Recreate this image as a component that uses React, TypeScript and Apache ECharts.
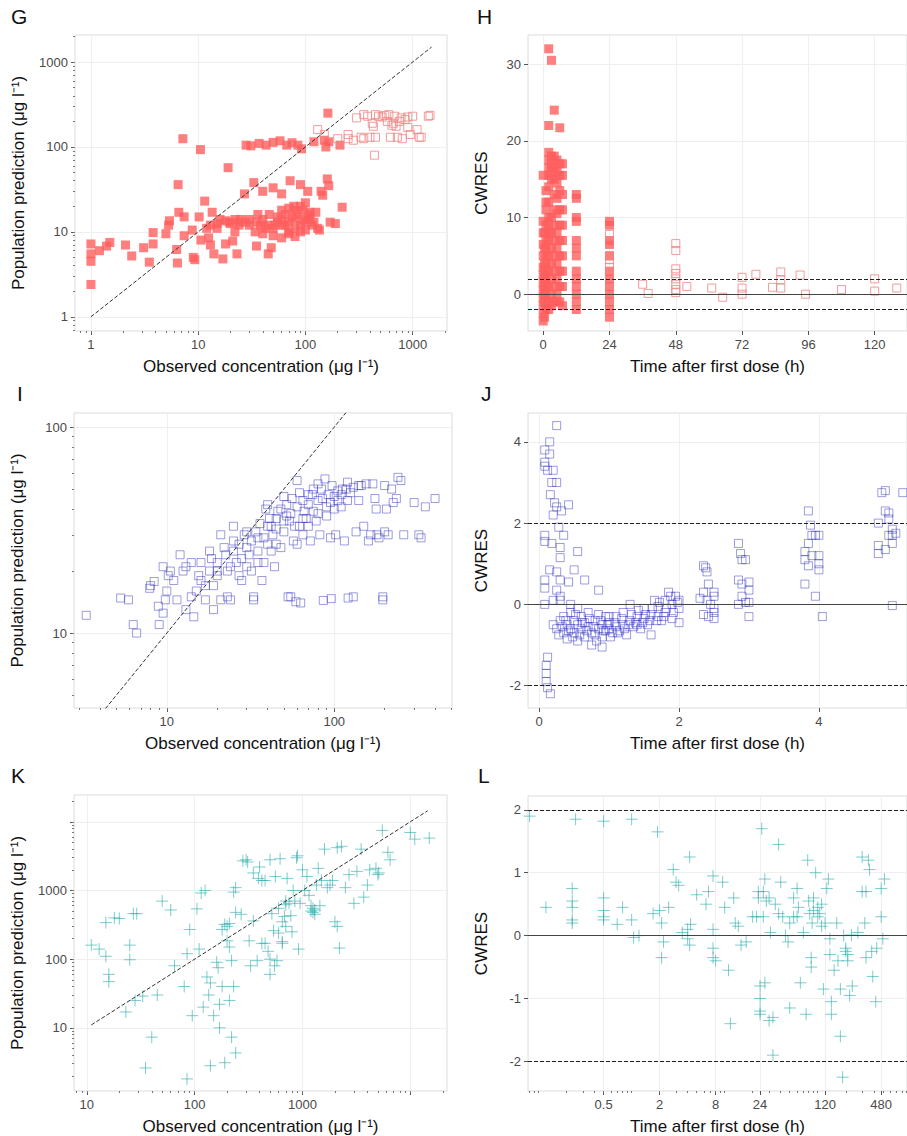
import React, { useEffect, useRef } from 'react';
import * as echarts from 'echarts';

// ---- data ----
// G: observed vs population prediction, drug 1 (filled = early samples, hollow = late samples)
const gFilled: number[][] = [
  [1, 7.2], [1, 5.5], [1, 4.5], [1, 2.4], [1.2, 6], [1.4, 6.8], [1.5, 7.5], [2.1, 7], [2.4, 5.2], [3.1, 6.5],
  [3.5, 4.4], [3.8, 7.2], [3.8, 9.8], [5, 9.5], [5.3, 12], [5.4, 13.5], [6.3, 6.2], [6.4, 4.3], [6.6, 17], [6.5, 36],
  [7.2, 125], [7.4, 15], [7.4, 9], [8.8, 10.5], [9, 5], [9.3, 4.7], [10.5, 93], [10.2, 15], [10.6, 8], [11.5, 23],
  [12, 11], [12.5, 8.5], [13, 7], [13.5, 17], [14, 5.5], [15, 11], [16, 14], [17, 4.8], [18, 7.2], [19, 57],
  [19.5, 13], [21, 7.8], [22, 10], [23, 5.5], [24, 13], [24, 12], [27, 28], [28, 105], [30, 14], [31, 103],
  [33, 38], [34, 10], [35, 6.8], [36, 16], [37, 110], [38, 12], [40, 30], [42, 11], [43, 105], [45, 5.5],
  [46, 16], [48, 6.5], [50, 113], [50, 33], [52, 12], [55, 15], [58, 118], [60, 28], [62, 12], [65, 16],
  [67, 105], [70, 10], [72, 40], [75, 112], [78, 20], [80, 14], [85, 105], [90, 36], [92, 95], [95, 18],
  [100, 10.5], [105, 30], [110, 14], [115, 12], [120, 115], [130, 11], [135, 10.5], [140, 30], [145, 27], [150, 120],
  [155, 100], [160, 42], [162, 250], [165, 35], [165, 115], [170, 13], [190, 12.5], [210, 105], [220, 19.5],
  [30, 12], [35, 13], [40, 14], [45, 12], [50, 11], [55, 13], [60, 14], [65, 12], [70, 13], [75, 15],
  [80, 11], [85, 16], [90, 12], [95, 14], [100, 13], [105, 15], [110, 17], [120, 13], [60, 18], [70, 19],
  [80, 18], [90, 20], [100, 22], [110, 16], [125, 17], [40, 9.5], [50, 9], [60, 8.5], [70, 9.5], [80, 8.8],
  [90, 10], [20, 12.5], [25, 14], [15, 12.5], [18, 13.5], [28, 13], [13, 12], [22, 14],
];
const gHollow: number[][] = [
  [130, 160], [150, 140], [200, 125], [250, 125], [280, 120], [300, 220], [330, 130], [350, 125], [380, 230], [400, 130],
  [420, 190], [430, 175], [440, 80], [450, 130], [480, 230], [520, 225], [550, 235], [580, 200], [600, 240], [620, 130],
  [640, 180], [660, 190], [700, 175], [720, 130], [750, 200], [780, 220], [800, 125], [850, 210], [900, 170], [950, 140],
  [1000, 230], [1100, 160], [1150, 130], [1200, 130], [1400, 230], [1450, 235], [350, 240], [450, 240], [250, 140], [680, 230],
  [900, 225],
];

// H: CWRES vs time, drug 1
const hCols: [number, number[]][] = [
  [0, [-3.5, -2.5, -1.5, -0.5, 0.5, 1.5, 2.5, 3.5, 5, 6.5, 8, 9.5, 15.5]],
  [0.5, [-3, -1, 0, 1, 2, 3, 4, 6, 8]],
  [1, [-2, -1, 0, 1, 2, 3, 4, 5, 6, 7, 9, 11, 12, 13.5]],
  [2, [32, 22, 18.5, 17.5, 16.5, 15.5, 14, 12, 10, 9, 8, 7, 5, 3, 1, -1, -2]],
  [3, [30.5, 18, 17, 16, 15, 10, 8, 6, 4, 2, 0, -1.5]],
  [4, [24, 18, 16.5, 15, 13, 11, 9, 7, 5, 3, 1, -1]],
  [5, [17.5, 16, 14.5, 12.5, 10.5, 8, 6, 4, 2, 0, -1]],
  [6, [21.7, 17, 15.5, 13.5, 11, 9, 7, 5, 3, 1, -1]],
  [7, [17, 15.5, 13, 11, 9, 7, 5, 3, 1, -1.5]],
  [12, [13, 12.5, 10, 9.5, 7, 6, 5, 3, 2, 1, 0, -1, -2]],
  [24, [9.5, 9, 7, 6.5, 5, 3, 2, 1, 0, -1, -2, -3]],
];
const hHollow: number[][] = [
  [24, 7.8], [24, 6.5], [24, 5], [24, 4.5], [24, 3.5], [24, 2.5], [24, 1.5], [24, 0.5],
  [36, 1.3], [38, 0.1], [48, 6.6], [48, 5.7], [48, 3.3], [48, 2.7], [48, 2], [48, 1.3], [48, 0.6], [48, 0.2],
  [52, 1], [61, 0.8], [65, -0.4], [72, 2.2], [72, 0.8], [72, 0], [77, 2.6], [83, 0.9], [86, 2.9], [86, 1.9],
  [86, 0.8], [93, 2.5], [95, 0], [108, 0.6], [120, 2], [120, 0.4], [128, 0.8],
];

// I: observed vs population prediction, drug 2
const iPoints: number[][] = [
  [3.3, 12.2], [5.3, 14.8], [5.9, 14.5], [6.3, 11], [6.6, 10], [7.9, 16.5], [8, 17], [8.4, 17.8], [8.9, 13.5], [9, 11],
  [9.5, 12.5], [9.8, 14.5], [9.5, 21], [10, 16], [10.2, 19], [10.5, 20], [11, 18], [11.5, 14.5], [12, 24], [12.5, 20],
  [13, 13], [13, 21], [14, 22], [14, 15], [14.5, 12], [15, 16], [15.5, 19], [16, 22], [17, 17], [17, 14.5],
  [18, 25], [18.5, 23], [19, 17], [20, 19], [20, 20], [21, 30], [21, 14.5], [22, 26], [22.5, 24], [23, 20],
  [24, 14.5], [24, 21], [25, 33], [25, 25], [26, 22], [27, 27], [27, 19], [28, 23], [29, 30], [30, 21],
  [30, 26], [31, 24], [32, 28], [33, 15], [33, 14.5], [34, 31], [35, 25], [36, 34], [37, 18], [38, 29],
  [39, 40], [40, 33], [41, 36], [42, 25], [43, 30], [44, 21], [45, 27], [46, 39], [48, 26], [50, 31],
  [52, 37], [53, 15], [54, 35], [55, 15], [56, 45], [57, 28], [58, 33], [59, 14.2], [60, 27], [62, 48],
  [62, 33], [63, 14], [65, 30], [66, 39], [68, 36], [70, 42], [72, 28], [74, 47], [75, 39], [78, 35],
  [80, 44], [82, 30], [84, 50], [86, 14.4], [88, 56], [90, 37], [92, 47], [95, 29], [96, 14.7], [97, 52],
  [100, 40], [102, 30], [105, 49], [110, 41], [112, 50], [115, 28], [118, 50], [120, 44], [121, 14.8], [130, 15],
  [135, 31], [140, 44], [145, 52], [150, 33], [155, 53], [160, 28], [165, 30], [170, 53], [175, 45], [178, 40],
  [180, 30], [185, 29], [195, 14.5], [195, 15], [200, 31], [205, 40], [210, 30], [220, 50], [225, 43], [235, 45],
  [240, 57], [250, 55], [260, 30], [300, 43], [320, 30], [330, 29], [350, 41], [400, 45], [60, 55], [80, 53],
  [120, 54], [140, 52], [200, 52], [40, 42], [50, 46], [45, 36], [35, 22], [28, 18], [23, 15], [19, 13],
  [30, 31], [35, 29], [40, 27], [45, 32], [50, 35], [55, 38], [60, 41], [65, 44], [70, 47], [75, 50],
  [85, 45], [95, 43], [105, 44], [125, 48], [25, 28], [20, 22], [18, 20], [16, 18], [65, 36], [70, 33],
  [80, 38], [90, 41], [100, 46], [110, 47], [130, 51], [32, 20], [38, 22], [42, 33], [48, 40], [52, 42],
];

// J: CWRES vs time, drug 2
const jPoints: number[][] = [
  [0.08, 3.8], [0.08, 3.5], [0.08, 3.4], [0.15, 4.0], [0.15, 3.7], [0.12, 3.3], [0.2, 3.3], [0.18, 3.0], [0.16, 2.7], [0.25, 3.0],
  [0.22, 2.5], [0.2, 2.2], [0.25, 2.4], [0.32, 2.3], [0.42, 2.45], [0.25, 4.4], [0.08, 1.7], [0.08, 1.55], [0.18, 1.5], [0.35, 1.7],
  [0.28, 1.9], [0.3, 1.4], [0.3, 1.15], [0.55, 1.3], [0.15, 0.85], [0.25, 0.8], [0.08, 0.6], [0.3, 0.6], [0.08, 0.4], [0.5, 0.85],
  [0.65, 0.6], [0.42, 0.55], [0.85, 0.35], [0.08, 0], [0.2, 0.1], [0.3, 0.2], [0.12, -1.3], [0.1, -1.5], [0.1, -1.7], [0.1, -1.9],
  [0.12, -2.05], [0.16, -2.2],
  [0.2, -0.5], [0.25, -0.6], [0.3, -0.4], [0.35, -0.7], [0.35, -0.3], [0.4, -0.5], [0.4, -0.85], [0.45, -0.2], [0.45, -0.6], [0.5, -0.4],
  [0.5, -0.7], [0.55, -0.5], [0.55, -0.9], [0.6, -0.3], [0.6, -0.6], [0.65, -0.8], [0.65, -0.45], [0.7, -0.55], [0.7, -0.2], [0.75, -0.7],
  [0.75, -1.0], [0.8, -0.4], [0.8, -0.75], [0.85, -0.6], [0.85, -0.25], [0.9, -0.5], [0.9, -0.8], [0.9, -1.05], [0.95, -0.3], [1.0, -0.6],
  [1.0, -0.45], [1.05, -0.7], [1.1, -0.55], [1.1, -0.3], [1.15, -0.65], [1.2, -0.5], [1.2, -0.2], [1.25, -0.75], [1.3, -0.4], [1.3, 0],
  [1.35, -0.55], [1.4, -0.3], [1.45, -0.6], [1.5, -0.35], [1.5, -0.1], [1.55, -0.5], [1.6, -0.25], [1.6, -0.75], [1.65, 0.1], [1.7, -0.3],
  [1.7, -0.05], [1.75, -0.4], [1.8, 0.1], [1.8, -0.2], [1.85, 0.3], [1.9, 0], [1.9, -0.35], [1.95, 0.2], [2.0, -0.1], [2.0, 0.1],
  [2.0, -0.45], [0.3, 0.1], [0.25, 0.35], [0.45, 0], [0.55, -0.1], [1.0, -0.3], [1.4, -0.5], [0.95, -0.65],
  [0.28, -0.75], [0.33, -0.55], [0.38, -0.4], [0.42, -0.65], [0.48, -0.8], [0.52, -0.25], [0.58, -0.75], [0.62, -0.45], [0.68, -0.65], [0.72, -0.35],
  [0.78, -0.55], [0.82, -0.9], [0.88, -0.4], [0.92, -0.65], [0.98, -0.5], [1.02, -0.8], [1.08, -0.45], [1.12, -0.7], [1.18, -0.35], [1.22, -0.6],
  [1.28, -0.5], [1.32, -0.25], [1.38, -0.45], [1.42, -0.15], [1.48, -0.45], [1.52, -0.25], [1.58, -0.4], [1.62, -0.1], [1.68, -0.4], [1.72, 0.05],
  [1.78, -0.3], [1.82, -0.1], [1.88, 0.2], [1.92, -0.2], [1.98, 0.05],
  [2.35, 0.95], [2.38, 0.9], [2.4, 0.8], [2.42, 0.5], [2.35, 0.3], [2.3, 0.15], [2.4, 0.1], [2.45, 0.0], [2.5, -0.1], [2.5, 0.3],
  [2.5, 0.2], [2.5, -0.2], [2.5, -0.35], [2.35, -0.25], [2.42, -0.3],
  [2.85, 1.5], [2.88, 1.25], [2.9, 1.1], [2.95, 1.1], [2.85, 0.6], [2.9, 0.5], [3.0, 0.55], [3.0, 0.35], [2.9, 0.2], [2.95, 0.05],
  [3.0, 0.05], [3.0, -0.3], [2.85, 0],
  [3.85, 2.3], [3.88, 1.95], [3.9, 1.7], [3.95, 1.7], [4.0, 1.7], [3.8, 1.3], [3.85, 1.5], [3.8, 1.1], [3.9, 1.2], [4.0, 1.2],
  [4.0, 1.0], [4.0, 0.85], [3.85, 0.95], [3.8, 0.5], [3.95, 0.2], [4.05, -0.3],
  [4.95, 2.8], [4.9, 2.75], [5.2, 2.75], [4.95, 2.3], [5.0, 2.25], [5.0, 2.1], [4.85, 2.0], [5.0, 1.7], [5.05, 1.7], [5.1, 1.75],
  [5.05, 1.85], [4.85, 1.45], [4.85, 1.25], [4.95, 1.35], [5.05, 1.5], [5.05, -0.03],
];

// K: observed vs population prediction, drug 3
const kPoints: number[][] = [
  [11, 160], [13, 140], [15, 110], [15, 340], [16, 60], [16, 47], [18, 400], [20, 390], [25, 160], [25, 98],
  [27, 460], [29, 460], [23, 17], [28, 25], [33, 29], [35, 2.6], [40, 7.3], [45, 30], [50, 700], [60, 520],
  [65, 80], [80, 40], [85, 120], [90, 270], [95, 15], [85, 1.8], [105, 540], [110, 140], [115, 920], [120, 20],
  [125, 1000], [130, 55], [135, 30], [140, 2.8], [140, 45], [150, 15], [160, 90], [165, 75], [170, 22], [170, 10],
  [180, 40], [180, 270], [190, 320], [190, 3.1], [200, 300], [200, 185], [210, 150], [210, 25], [220, 95], [220, 7.3],
  [230, 40], [240, 4.3], [240, 480], [230, 950], [240, 1100], [270, 450], [280, 2700], [300, 2800], [310, 2600], [320, 185],
  [330, 80], [350, 360], [350, 1800], [380, 95], [390, 1500], [400, 2200], [420, 1400], [450, 1400], [450, 170], [480, 130],
  [500, 60], [500, 2800], [520, 460], [540, 260], [560, 1600], [580, 95], [600, 550], [620, 2900], [650, 170], [650, 350],
  [680, 420], [700, 620], [720, 1500], [750, 650], [780, 430], [800, 250], [820, 1000], [850, 700], [880, 3000], [900, 3200],
  [920, 140], [950, 650], [1000, 2000], [1050, 1000], [1100, 1600], [1150, 850], [1200, 500], [1250, 550], [1300, 450], [1350, 1200],
  [1400, 2100], [1450, 600], [1500, 1400], [1600, 4000], [1700, 1100], [1800, 1200], [1900, 1400], [2000, 350], [2100, 300], [2100, 4200],
  [2200, 145], [2300, 4400], [2500, 1100], [2700, 1700], [3000, 650], [3200, 1900], [3500, 4000], [3700, 800], [4000, 1200], [4200, 2000],
  [4800, 2100], [5000, 1700], [5100, 1800], [5500, 7500], [6200, 3600], [6500, 2800], [10000, 7000], [11000, 5600], [15000, 5800], [210, 330],
  [600, 240], [650, 180], [700, 300], [420, 170], [500, 100], [550, 80], [1250, 480], [1300, 520], [1200, 600], [700, 700],
];

// L: CWRES vs time (log), drug 3
const lPoints: number[][] = [
  [0.08, 1.9], [0.12, 0.45], [0.23, 0.75], [0.23, 0.55], [0.23, 0.45], [0.23, 0.25], [0.23, 0.2], [0.25, 1.85], [0.5, 1.82], [0.5, 0.6],
  [0.5, 0.4], [0.5, 0.3], [0.5, 0.25], [0.8, 0.45], [0.7, 0.18], [1.0, 1.85], [1.0, 0.25], [1.05, -0.03], [1.2, 0], [1.7, 0.35],
  [1.9, 1.65], [2.0, 0.4], [2.1, 0.2], [2.1, -0.35], [2.2, -0.1], [2.5, 0.45], [2.8, 1.05], [3.0, 0.85], [3.2, 0.8], [3.5, 0.05],
  [4.2, 1.25], [4.0, 0.1], [4.0, -0.05], [4.2, -0.15], [4.3, 0.18], [5.0, 0.65], [6.3, 0.5], [6.7, 0.7], [7.5, 0.95], [7.5, 0.1],
  [7.5, -0.2], [7.5, -0.35], [8.0, -0.4], [9.5, 0.85], [10, 0.45], [11, -0.55], [11.5, -1.4], [12.5, 0.6], [13, 0.2], [14, 0.15],
  [15, -0.15], [17, -0.1], [20, 0.3], [22, 0.3], [23, 0.6], [23, 0.7], [24, -0.8], [24, -1.0], [24, -1.2], [24, -1.25],
  [25, 1.7], [26, 0.7], [26, 0.3], [27, 0.9], [27, -0.75], [28, 0.55], [30, -1.35], [31, 0.05], [33, -1.3], [33, -1.9],
  [38, 1.45], [38, 0.35], [40, 0.85], [42, 0.3], [45, 0], [48, -0.1], [50, -1.15], [55, 0.6], [55, 0.3], [60, 0.75],
  [62, 0.45], [65, -0.75], [70, 0.05], [75, -1.25], [78, 1.2], [80, 0.55], [82, 0.35], [85, -0.35], [85, -0.5], [87, 0.2],
  [90, 0.6], [95, 1.0], [100, 0.3], [110, 0.15], [115, -0.85], [120, 0.2], [125, 0.75], [130, 0.9], [135, -0.05], [135, -0.3],
  [140, -1.25], [140, -1.05], [150, -0.55], [160, 0.2], [165, -0.4], [175, -1.6], [175, -0.85], [185, -2.25], [190, 0], [200, -0.25],
  [210, -0.4], [220, -0.95], [230, 0.01], [235, -0.8], [270, 0.05], [300, 1.25], [300, 0.7], [320, 0.2], [330, 0.7], [330, -0.35],
  [350, 1.2], [360, 1.05], [380, -0.25], [390, -0.65], [420, -1.05], [430, -0.2], [480, 0.75], [480, 0.3], [500, -0.05], [520, 0.9],
  [30, 0.6], [35, 0.5], [50, 0.2], [60, 0.3], [90, 0.4], [100, 0.45], [105, 0.35], [110, 0.5], [200, -0.2], [210, -0.3],
];

const concTicksG = [1, 10, 100, 1000];
const concTicksI = [10, 100];
const concTicksK = [10, 100, 1000];
const concTicksKAll = [10, 100, 1000, 10000];
const timeTicksL = [0.5, 2, 8, 24, 120, 480];

const FONT = '"Liberation Sans", Arial, sans-serif';
const lg = (v: number) => Math.log10(v);
const fmtPow = (v: number) => String(Number(Math.pow(10, v).toPrecision(3)));

function minorValues(lo: number, hi: number) {
  const out: number[] = [];
  for (let e = -3; e <= 5; e++) {
    for (let m = 1; m <= 9; m++) {
      const v = m * Math.pow(10, e);
      if (v >= lo && v <= hi) out.push(lg(v));
    }
  }
  return out;
}

const labelStyle = { color: '#4a4a4a', fontSize: 13, fontFamily: FONT };
const nameStyle = { color: '#111', fontSize: 17, fontFamily: FONT };

function axis(dim: 'x' | 'y', grid: number, min: number, max: number, ticks: number[], labels: number[],
  opts: { name?: string; gap?: number; fmt?: (v: number) => string; minor?: boolean }) {
  return {
    type: 'value', gridIndex: grid, min, max,
    position: dim === 'x' ? 'bottom' : 'left',
    name: opts.name, nameLocation: 'middle', nameGap: opts.gap, nameTextStyle: nameStyle,
    axisLine: { show: false, onZero: false },
    axisTick: opts.minor
      ? { show: true, customValues: ticks, length: 2, lineStyle: { color: '#777' } }
      : { show: true, customValues: ticks, length: 4, lineStyle: { color: '#555' } },
    axisLabel: opts.minor
      ? { show: false, customValues: [] as number[] }
      : { ...labelStyle, customValues: labels, formatter: opts.fmt, margin: 7 },
    splitLine: { show: !opts.minor, lineStyle: { color: '#efefef', width: 1 } },
  };
}

const redFilled = { color: '#ff5e5e' };
const redHollow = { color: 'rgba(255,255,255,0)', borderColor: '#f08383', borderWidth: 1 };
const blueHollow = { color: 'rgba(255,255,255,0)', borderColor: 'rgba(50,50,190,0.6)', borderWidth: 1 };
const tealCross = { color: 'rgba(255,255,255,0)', borderColor: 'rgba(40,170,170,0.75)', borderWidth: 1 };
const CROSS = 'path://M5 0L5 10M0 5L10 5';

function refLines() {
  return {
    silent: true, symbol: 'none', label: { show: false },
    data: [
      { yAxis: 0, lineStyle: { type: 'solid', color: '#444', width: 1.2 } },
      { yAxis: 2, lineStyle: { type: 'dashed', color: '#222', width: 1 } },
      { yAxis: -2, lineStyle: { type: 'dashed', color: '#222', width: 1 } },
    ],
  };
}

function identity(xi: number, lo: number, hi: number) {
  return {
    type: 'line', xAxisIndex: xi, yAxisIndex: xi, data: [[lg(lo), lg(lo)], [lg(hi), lg(hi)]],
    showSymbol: false, symbol: 'none', z: 5, silent: true,
    lineStyle: { type: 'dashed', color: '#333', width: 1 },
  };
}

const logPts = (pts: number[][]) => pts.map(([x, y]) => [lg(x), lg(y)]);

export default function App() {
  const ref = useRef<HTMLDivElement>(null);

  useEffect(() => {
    if (!ref.current) return;
    const chart = echarts.init(ref.current, undefined, { renderer: 'svg' });

    const grids = [
      { left: 75, top: 35, width: 372, height: 296 },
      { left: 528, top: 35, width: 379, height: 296 },
      { left: 74, top: 413, width: 378, height: 295 },
      { left: 528, top: 413, width: 379, height: 295 },
      { left: 74, top: 795, width: 373, height: 297 },
      { left: 528, top: 796, width: 379, height: 296 },
    ].map((g) => ({ ...g, show: true, borderColor: '#dcdcdc', borderWidth: 1, backgroundColor: '#fff' }));

    const concName = 'Observed concentration (μg l⁻¹)';
    const predName = 'Population prediction (μg l⁻¹)';
    const timeName = 'Time after first dose (h)';

    const gX = [lg(0.71), lg(2090)];
    const gY = [lg(0.68), lg(2080)];
    const iX = [lg(2.79), lg(505)];
    const iY = [lg(4.33), lg(117)];
    const kX = [lg(7.6), lg(21900)];
    const kY = [lg(1.2), lg(24600)];
    const lX = [lg(0.077), lg(910)];

    const xAxis = [
      axis('x', 0, gX[0], gX[1], concTicksG.map(lg), concTicksG.map(lg), { name: concName, gap: 27, fmt: fmtPow }),
      axis('x', 1, -5.5, 131.7, [0, 24, 48, 72, 96, 120], [0, 24, 48, 72, 96, 120], { name: timeName, gap: 27 }),
      axis('x', 2, iX[0], iX[1], concTicksI.map(lg), concTicksI.map(lg), { name: concName, gap: 27, fmt: fmtPow }),
      axis('x', 3, -0.16, 5.26, [0, 2, 4], [0, 2, 4], { name: timeName, gap: 27 }),
      axis('x', 4, kX[0], kX[1], concTicksKAll.map(lg), concTicksK.map(lg), { name: concName, gap: 27, fmt: fmtPow }),
      axis('x', 5, lX[0], lX[1], timeTicksL.map(lg), timeTicksL.map(lg), { name: timeName, gap: 27, fmt: fmtPow }),
      axis('x', 0, gX[0], gX[1], minorValues(0.71, 2090), [], { minor: true }),
      axis('x', 2, iX[0], iX[1], minorValues(2.79, 505), [], { minor: true }),
      axis('x', 4, kX[0], kX[1], minorValues(7.6, 21900), [], { minor: true }),
      axis('x', 5, lX[0], lX[1], minorValues(0.077, 910), [], { minor: true }),
    ];
    const yAxis = [
      axis('y', 0, gY[0], gY[1], concTicksG.map(lg), concTicksG.map(lg), { name: predName, gap: 48, fmt: fmtPow }),
      axis('y', 1, -4.8, 33.8, [0, 10, 20, 30], [0, 10, 20, 30], { name: 'CWRES', gap: 38 }),
      axis('y', 2, iY[0], iY[1], concTicksI.map(lg), concTicksI.map(lg), { name: predName, gap: 48, fmt: fmtPow }),
      axis('y', 3, -2.55, 4.71, [-2, 0, 2, 4], [-2, 0, 2, 4], { name: 'CWRES', gap: 38 }),
      axis('y', 4, kY[0], kY[1], concTicksKAll.map(lg), concTicksK.map(lg), { name: predName, gap: 48, fmt: fmtPow }),
      axis('y', 5, -2.47, 2.22, [-2, -1, 0, 1, 2], [-2, -1, 0, 1, 2], { name: 'CWRES', gap: 38 }),
      axis('y', 0, gY[0], gY[1], minorValues(0.68, 2080), [], { minor: true }),
      axis('y', 2, iY[0], iY[1], minorValues(4.33, 117), [], { minor: true }),
      axis('y', 4, kY[0], kY[1], minorValues(1.2, 24600), [], { minor: true }),
    ];

    const hFilled: number[][] = [];
    hCols.forEach(([t, ys]) => ys.forEach((y) => hFilled.push([t, y])));

    const series: any[] = [
      identity(0, 1, 1500),
      { type: 'scatter', xAxisIndex: 0, yAxisIndex: 0, symbol: 'rect', symbolSize: 9, itemStyle: redFilled, data: logPts(gFilled) },
      { type: 'scatter', xAxisIndex: 0, yAxisIndex: 0, symbol: 'rect', symbolSize: 8, itemStyle: redHollow, data: logPts(gHollow) },
      { type: 'scatter', xAxisIndex: 1, yAxisIndex: 1, symbol: 'rect', symbolSize: 9, itemStyle: redFilled, data: hFilled, markLine: refLines() },
      { type: 'scatter', xAxisIndex: 1, yAxisIndex: 1, symbol: 'rect', symbolSize: 8, itemStyle: redHollow, data: hHollow },
      identity(2, 1, 1000),
      { type: 'scatter', xAxisIndex: 2, yAxisIndex: 2, symbol: 'rect', symbolSize: 8, itemStyle: blueHollow, data: logPts(iPoints) },
      { type: 'scatter', xAxisIndex: 3, yAxisIndex: 3, symbol: 'rect', symbolSize: 8, itemStyle: blueHollow, data: jPoints, markLine: refLines() },
      identity(4, 11, 14500),
      { type: 'scatter', xAxisIndex: 4, yAxisIndex: 4, symbol: CROSS, symbolSize: 12, itemStyle: tealCross, data: logPts(kPoints) },
      { type: 'scatter', xAxisIndex: 5, yAxisIndex: 5, symbol: CROSS, symbolSize: 12, itemStyle: tealCross,
        data: lPoints.map(([x, y]) => [lg(x), y]), markLine: refLines() },
    ];

    const letters: [string, number, number][] = [
      ['G', 11, 6], ['H', 477, 6], ['I', 17, 383], ['J', 481, 383], ['K', 11, 765], ['L', 478, 765],
    ];

    chart.setOption({
      animation: false,
      backgroundColor: '#fff',
      grid: grids,
      xAxis,
      yAxis,
      series,
      graphic: letters.map(([t, x, y]) => ({
        type: 'text', left: x, top: y,
        style: { text: t, fontSize: 21, fontFamily: FONT, fill: '#111' },
      })),
    });

    return () => chart.dispose();
  }, []);

  return <div ref={ref} style={{ position: 'absolute', left: 0, top: 0, width: 907, height: 1136 }} />;
}
